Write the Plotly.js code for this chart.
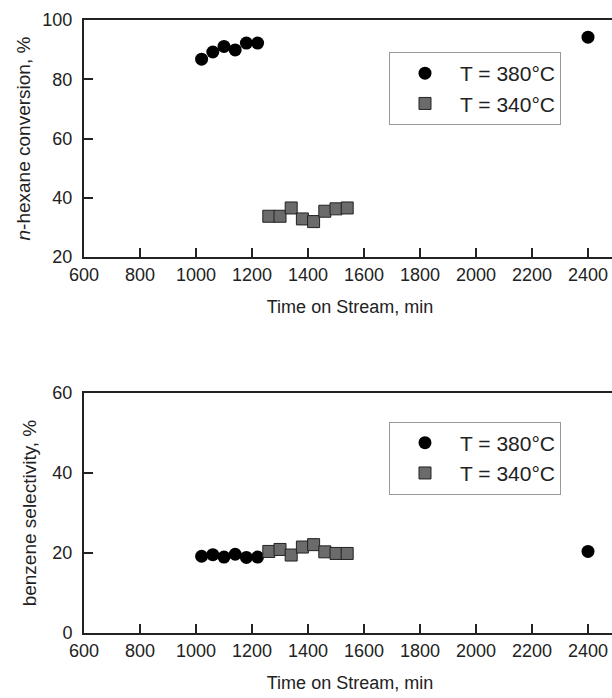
<!DOCTYPE html>
<html>
<head>
<meta charset="utf-8">
<script src="https://cdn.plot.ly/plotly-3.0.1.min.js"></script>
<style>
html,body{margin:0;padding:0;overflow:hidden;background:#fff;}
#chart{width:620px;height:698px;}
</style>
</head>
<body>
<div id="chart"></div>
<script>
// Data
const time380 = [1020, 1060, 1100, 1140, 1180, 1220, 2400];
const conv380 = [86.8, 89.2, 91.1, 89.9, 92.2, 92.2, 94.2];
const sel380  = [19.2, 19.6, 19.0, 19.7, 18.9, 19.0, 20.4];

const time340 = [1260, 1300, 1340, 1380, 1420, 1460, 1500, 1540];
const conv340 = [33.8, 33.8, 36.6, 32.9, 32.0, 35.5, 36.3, 36.6];
const sel340  = [20.4, 20.9, 19.5, 21.5, 22.1, 20.3, 19.9, 19.9];

const label380 = 'T = 380°C';
const label340 = 'T = 340°C';
const xTicks = [600, 800, 1000, 1200, 1400, 1600, 1800, 2000, 2200, 2400];
const yTicksTop = [20, 40, 60, 80, 100];
const yTicksBottom = [0, 20, 40, 60];

const FONT = 'Liberation Sans, Arial, Helvetica, sans-serif';
const TXT = '#222';

const circ = {symbol: 'circle', size: 13, color: '#000', line: {width: 0}};
const sq = {symbol: 'square', size: 12, color: '#6b6b6b', line: {width: 1, color: '#222'}};

const traces = [
  {x: time380, y: conv380, name: label380, mode: 'markers', marker: circ, xaxis: 'x', yaxis: 'y', legend: 'legend'},
  {x: time340, y: conv340, name: label340, mode: 'markers', marker: sq, xaxis: 'x', yaxis: 'y', legend: 'legend'},
  {x: time380, y: sel380, name: label380, mode: 'markers', marker: circ, xaxis: 'x2', yaxis: 'y2', legend: 'legend2'},
  {x: time340, y: sel340, name: label340, mode: 'markers', marker: sq, xaxis: 'x2', yaxis: 'y2', legend: 'legend2'}
];

function xAxis(anchor) {
  return {
    anchor: anchor, range: [600, 2500], tickvals: xTicks, ticktext: xTicks.map(String),
    ticks: 'inside', ticklen: 9, tickwidth: 2, tickcolor: '#222',
    showline: true, linecolor: '#222', linewidth: 2, mirror: true,
    showgrid: false, zeroline: false,
    tickfont: {family: FONT, size: 18, color: TXT},
    title: {text: 'Time on Stream, min', font: {family: FONT, size: 18, color: TXT}, standoff: 17}
  };
}
function yAxis(anchor, domain, range, ticks, title, standoff) {
  return {
    anchor: anchor, domain: domain, range: range, tickvals: ticks, ticktext: ticks.map(String),
    ticks: 'inside', ticklen: 9, tickwidth: 2, tickcolor: '#222',
    showline: true, linecolor: '#222', linewidth: 2, mirror: true,
    showgrid: false, zeroline: false, ticklabelstandoff: 6,
    tickfont: {family: FONT, size: 18, color: TXT},
    title: {text: title, font: {family: FONT, size: 19, color: TXT}, standoff: standoff}
  };
}

const legendStyle = {
  bgcolor: '#fff', bordercolor: '#999', borderwidth: 1,
  font: {family: FONT, size: 21, color: TXT},
  xanchor: 'left', yanchor: 'top', itemwidth: 60, tracegroupgap: 0
};

const layout = {
  width: 620, height: 698,
  margin: {l: 84, r: 4, t: 20, b: 64.7},
  paper_bgcolor: '#fff', plot_bgcolor: '#fff',
  showlegend: true,
  xaxis: xAxis('y'),
  yaxis: yAxis('x', [0.6131, 1], [20, 100], yTicksTop, '<i>n</i>-hexane conversion, %', 7),
  xaxis2: xAxis('y2'),
  yaxis2: yAxis('x2', [0, 0.3913], [0, 60], yTicksBottom, 'benzene selectivity, %', 11),
  legend: Object.assign({x: 0.5733, y: 0.9478}, legendStyle),
  legend2: Object.assign({x: 0.5733, y: 0.345}, legendStyle)
};

Plotly.newPlot('chart', traces, layout, {staticPlot: true, displayModeBar: false});
</script>
</body>
</html>
